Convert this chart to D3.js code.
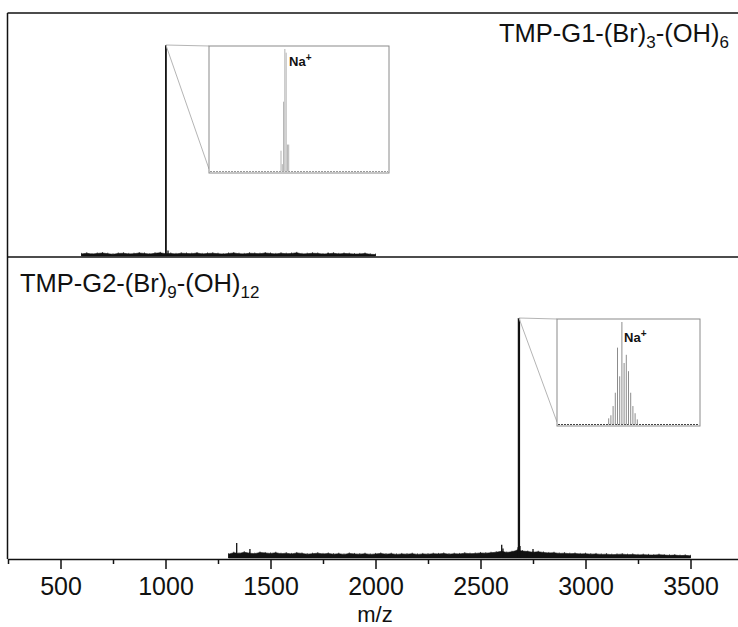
<!DOCTYPE html>
<html>
<head>
<meta charset="utf-8">
<script src="https://cdn.jsdelivr.net/npm/d3@7"></script>
<style>
  body { margin: 0; background: #fff; }
  svg { display: block; }
  text { font-family: "Liberation Sans", Arial, sans-serif; fill: #111; }
</style>
</head>
<body>
<svg id="chart" width="738" height="627"></svg>
<script>
// ---- axis ticks (m/z) ----
const xTicksMajor = [500, 1000, 1500, 2000, 2500, 3000, 3500];
const xTicksMinor = [250, 750, 1250, 1750, 2250, 2750, 3250];

// ---- TMP-G1-(Br)3-(OH)6 spectrum: peaks (m/z, relative intensity %) ----
const g1PeakMz  = [1002, 1012, 1774];
const g1PeakInt = [100, 2.6, 1.5];
// baseline noise level (%), sampled every 25 m/z from 600 to 2000
const g1NoiseStart = 600, g1NoiseStep = 25;
const g1Noise = [
  1.0,1.3,0.9,1.2,1.4,1.1,0.8,1.2,1.3,1.0,
  1.1,1.4,1.2,0.9,1.3,1.5,1.1,1.2,1.0,1.3,
  1.2,1.1,1.4,1.0,1.2,1.3,1.1,0.9,1.2,1.4,
  1.1,1.0,1.3,1.2,1.1,1.4,1.2,1.0,1.3,1.1,
  1.2,1.5,1.0,1.1,1.3,1.2,0.9,1.1,1.3,1.0,
  1.2,1.1,0.9,1.0,1.2,0.8,0.7
];
// isotope pattern of the Na+ adduct (inset)
const g1IsoMz  = [999, 1000, 1001, 1002, 1003, 1004, 1005];
const g1IsoInt = [17, 6, 57, 100, 97, 22, 22];

// ---- TMP-G2-(Br)9-(OH)12 spectrum ----
const g2PeakMz  = [1339, 1402, 2601, 2607, 2679, 2683, 2688, 2721, 2750];
const g2PeakInt = [6.3, 3.8, 5.5, 4.0, 4.5, 100, 5.0, 2.6, 3.8];
// baseline noise level (%), sampled every 25 m/z from 1300 to 3500
const g2NoiseStart = 1300, g2NoiseStep = 25;
const g2Noise = [
  1.6,2.2,1.9,2.4,2.0,1.8,2.3,2.1,1.9,2.2,
  1.8,2.0,1.7,2.1,1.9,1.6,1.8,2.0,1.7,1.9,
  1.6,1.8,1.5,1.9,1.7,1.6,1.8,1.5,1.7,1.9,
  1.6,1.8,1.5,1.7,1.6,1.8,1.5,1.7,1.6,1.8,
  1.7,1.9,1.6,1.8,1.7,2.0,1.8,1.9,2.1,2.0,
  2.2,2.4,2.8,2.3,2.6,3.2,2.9,2.7,2.4,2.6,
  2.3,2.1,2.2,1.9,2.0,1.8,1.9,1.7,1.8,1.6,
  1.7,1.5,1.6,1.4,1.5,1.6,1.4,1.5,1.3,1.4,
  1.3,1.2,1.4,1.2,1.1,1.2,1.0,1.1,0.9
];
const g2IsoMz  = [2678, 2679, 2680, 2681, 2682, 2683, 2684, 2685, 2686, 2687, 2688, 2689, 2690, 2691];
const g2IsoInt = [6, 9, 18, 31, 75, 47, 100, 60, 68, 52, 31, 18, 11, 5];

// ---- layout ----
const svg = d3.select("#chart");
const frameLeft = 7.5, frameTop = 13, frameMid = 257, frameBottom = 559, frameRight = 743;

const x = d3.scaleLinear().domain([250, 3750]).range([8, 743]);
const yTop = d3.scaleLinear().domain([0, 100]).range([256, 45]);
const yBot = d3.scaleLinear().domain([0, 100]).range([558, 318]);

// clip spectra to their panels
const defs = svg.append("defs");
defs.append("clipPath").attr("id", "clipTop")
  .append("rect").attr("x", frameLeft).attr("y", frameTop).attr("width", frameRight - frameLeft).attr("height", frameMid - frameTop);
defs.append("clipPath").attr("id", "clipBot")
  .append("rect").attr("x", frameLeft).attr("y", frameMid).attr("width", frameRight - frameLeft).attr("height", frameBottom - frameMid);

function drawSpectrum(g, y, noiseStart, noiseStep, noise, peakMz, peakInt, peakWidth) {
  const noisePts = noise.map((v, i) => [noiseStart + i * noiseStep, v]);
  const area = d3.area()
    .x(d => x(d[0]))
    .y0(y(0))
    .y1(d => y(d[1]));
  g.append("path")
    .datum(noisePts)
    .attr("d", area)
    .attr("fill", "#111")
    .attr("stroke", "#111")
    .attr("stroke-width", 0.6);
  // fine hair on top of the noise band at each sample
  g.selectAll("line.hair")
    .data(noisePts)
    .join("line")
    .attr("class", "hair")
    .attr("x1", d => x(d[0])).attr("x2", d => x(d[0]))
    .attr("y1", y(0)).attr("y2", d => y(d[1]) - 1)
    .attr("stroke", "#111").attr("stroke-width", 0.7);
  g.selectAll("line.peak")
    .data(peakMz.map((m, i) => ({ mz: m, v: peakInt[i] })))
    .join("line")
    .attr("class", "peak")
    .attr("x1", d => x(d.mz)).attr("x2", d => x(d.mz))
    .attr("y1", y(0)).attr("y2", d => y(d.v))
    .attr("stroke", "#111")
    .attr("stroke-width", d => d.v > 50 ? peakWidth : 1.3);
}

const gTop = svg.append("g").attr("clip-path", "url(#clipTop)");
drawSpectrum(gTop, yTop, g1NoiseStart, g1NoiseStep, g1Noise, g1PeakMz, g1PeakInt, 1.8);
const gBot = svg.append("g").attr("clip-path", "url(#clipBot)");
drawSpectrum(gBot, yBot, g2NoiseStart, g2NoiseStep, g2Noise, g2PeakMz, g2PeakInt, 2.3);

// ---- insets: zoom on the Na+ adduct isotope pattern ----
function drawInset(box, peakX, peakY, isoMz, isoInt, domain, stickColor, baseColor, labelX, labelY) {
  const g = svg.append("g");
  // connector lines from the apex of the main peak to the inset
  g.append("line")
    .attr("x1", peakX).attr("y1", peakY).attr("x2", box.x0).attr("y2", box.y0)
    .attr("stroke", "#b5b5b5").attr("stroke-width", 1);
  g.append("line")
    .attr("x1", peakX).attr("y1", peakY).attr("x2", box.x0).attr("y2", box.y1 - 4)
    .attr("stroke", "#b5b5b5").attr("stroke-width", 1);
  g.append("rect")
    .attr("x", box.x0).attr("y", box.y0)
    .attr("width", box.x1 - box.x0).attr("height", box.y1 - box.y0)
    .attr("fill", "#fff").attr("stroke", "#8a8a8a").attr("stroke-width", 1);

  const xi = d3.scaleLinear().domain(domain).range([box.x0, box.x1]);
  const yi = d3.scaleLinear().domain([0, 100]).range([box.y1 - 1.5, box.y0 + 3]);
  g.append("line")
    .attr("x1", box.x0 + 1).attr("x2", box.x1 - 1)
    .attr("y1", yi(0)).attr("y2", yi(0))
    .attr("stroke", baseColor).attr("stroke-width", 1.2)
    .attr("stroke-dasharray", "2,1");
  g.selectAll("line.iso")
    .data(isoMz.map((m, i) => ({ mz: m, v: isoInt[i] })))
    .join("line")
    .attr("class", "iso")
    .attr("x1", d => xi(d.mz)).attr("x2", d => xi(d.mz))
    .attr("y1", yi(0)).attr("y2", d => yi(d.v))
    .attr("stroke", stickColor).attr("stroke-width", 1);

  const t = g.append("text")
    .attr("x", labelX).attr("y", labelY)
    .attr("font-size", 13).attr("font-weight", "bold");
  t.append("tspan").text("Na");
  t.append("tspan").attr("dy", -5).attr("font-size", 10).text("+");
}

drawInset({ x0: 209, y0: 46, x1: 389, y1: 173 }, x(g1PeakMz[0]), yTop(100),
  g1IsoMz, g1IsoInt, [943, 1083], "#b3b3b3", "#9a9a9a", 289, 66);
drawInset({ x0: 557, y0: 319, x1: 700, y1: 426 }, x(g2PeakMz[5]), yBot(100),
  g2IsoMz, g2IsoInt, [2654.5, 2719.5], "#8c8c8c", "#444", 624, 342);

// ---- frame ----
const frame = svg.append("g").attr("stroke", "#111").attr("stroke-width", 1.5).attr("fill", "none");
frame.append("line").attr("x1", frameLeft).attr("x2", frameRight).attr("y1", frameTop).attr("y2", frameTop);
frame.append("line").attr("x1", frameLeft).attr("x2", frameRight).attr("y1", frameMid).attr("y2", frameMid);
frame.append("line").attr("x1", frameLeft).attr("x2", frameLeft).attr("y1", frameTop).attr("y2", frameBottom);
frame.append("line").attr("x1", frameRight).attr("x2", frameRight).attr("y1", frameTop).attr("y2", frameBottom);

// ---- x axis ----
const axisMajor = d3.axisBottom(x).tickValues(xTicksMajor).tickSize(10).tickSizeOuter(0).tickPadding(8)
  .tickFormat(d3.format("d"));
const gAx = svg.append("g").attr("transform", `translate(0,${frameBottom})`).call(axisMajor);
gAx.select(".domain").attr("stroke", "#111").attr("stroke-width", 1.5);
gAx.selectAll(".tick line").attr("stroke", "#111").attr("stroke-width", 1.5);
gAx.selectAll(".tick text").attr("font-size", 25).attr("fill", "#111")
  .attr("font-family", "'Liberation Sans', Arial, sans-serif");

const axisMinor = d3.axisBottom(x).tickValues(xTicksMinor).tickSize(5).tickSizeOuter(0).tickFormat("");
const gMin = svg.append("g").attr("transform", `translate(0,${frameBottom})`).call(axisMinor);
gMin.select(".domain").remove();
gMin.selectAll(".tick line").attr("stroke", "#111").attr("stroke-width", 1.5);

svg.append("text")
  .attr("x", 375).attr("y", 622)
  .attr("text-anchor", "middle").attr("font-size", 22)
  .text("m/z");

// ---- panel titles ----
function title(x0, y0, anchor, parts) {
  const t = svg.append("text").attr("x", x0).attr("y", y0)
    .attr("text-anchor", anchor).attr("font-size", 25.5);
  let shifted = 0;
  parts.forEach(p => {
    const s = t.append("tspan").text(p.t);
    if (p.sub) { s.attr("font-size", 17).attr("dy", 6 - shifted); shifted = 6; }
    else if (shifted) { s.attr("dy", -shifted); shifted = 0; }
  });
}
title(729, 42, "end", [
  { t: "TMP-G1-(Br)" }, { t: "3", sub: true }, { t: "-(OH)" }, { t: "6", sub: true }
]);
title(20, 292, "start", [
  { t: "TMP-G2-(Br)" }, { t: "9", sub: true }, { t: "-(OH)" }, { t: "12", sub: true }
]);
</script>
</body>
</html>
